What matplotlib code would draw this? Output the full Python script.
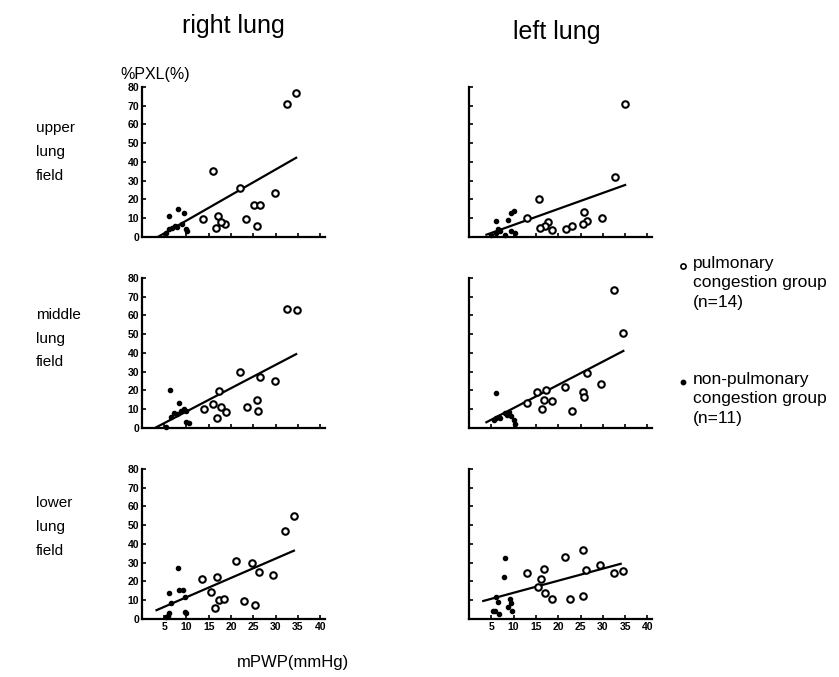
import matplotlib.pyplot as plt

plt.rcParams['font.family'] = ['Liberation Sans', 'DejaVu Sans']

# open circles = pulmonary congestion group, dots = non-pulmonary group
# right lung, upper field
ru_open_x = [34.6, 32.5, 16.0, 22.0, 29.8, 25.1, 26.5, 13.7, 17.1, 23.3, 16.7, 18.7, 25.9, 17.8]
ru_open_y = [76.8, 70.7, 35.1, 26.2, 23.4, 17.2, 17.2, 9.3, 11.1, 9.8, 4.6, 6.7, 5.8, 8.0]
ru_dot_x = [6.2, 8.2, 9.4, 6.0, 6.8, 7.5, 9.8, 10.2, 5.5, 8.0, 9.0]
ru_dot_y = [11.2, 14.8, 13.0, 4.0, 5.0, 6.0, 4.0, 3.0, 2.0, 5.5, 7.0]
ru_line_x = [3.6, 34.6]
ru_line_y = [0.0, 42.2]

# left lung, upper field
lu_open_x = [34.9, 32.8, 15.7, 13.1, 25.7, 29.9, 26.5, 25.6, 17.7, 17.0, 15.9, 18.6, 21.8, 23.0]
lu_open_y = [70.9, 32.2, 20.0, 9.9, 13.1, 10.3, 8.7, 6.8, 7.8, 5.6, 4.7, 3.5, 4.4, 5.9]
lu_dot_x = [6.0, 8.7, 9.5, 10.0, 5.0, 6.0, 7.0, 8.0, 9.5, 10.2, 6.5]
lu_dot_y = [8.5, 9.0, 12.5, 14.0, 1.0, 2.0, 3.0, 1.0, 3.0, 2.0, 4.0]
lu_line_x = [3.9, 35.0]
lu_line_y = [1.2, 27.7]

# right lung, middle field
rm_open_x = [32.5, 34.9, 22.1, 29.8, 26.6, 17.2, 16.0, 14.0, 17.8, 18.9, 16.9, 23.5, 25.9, 26.0]
rm_open_y = [63.4, 62.7, 29.6, 25.0, 27.1, 19.5, 12.9, 10.2, 11.1, 8.2, 5.2, 10.9, 14.8, 8.8]
rm_dot_x = [6.3, 8.4, 6.5, 7.2, 7.8, 9.5, 10.0, 9.8, 10.5, 5.5, 8.8]
rm_dot_y = [20.0, 13.0, 6.0, 8.0, 7.5, 10.0, 9.0, 3.0, 2.5, 0.5, 9.0]
rm_line_x = [3.0, 34.6]
rm_line_y = [0.0, 39.3]

# left lung, middle field
lm_open_x = [32.6, 34.6, 26.4, 29.6, 21.5, 17.2, 15.3, 25.6, 25.7, 16.8, 18.5, 16.3, 23.0, 13.1]
lm_open_y = [73.3, 50.3, 29.0, 23.4, 21.6, 20.2, 19.1, 19.1, 16.3, 14.7, 14.2, 10.1, 8.8, 13.5]
lm_dot_x = [6.1, 5.5, 6.0, 6.8, 8.0, 8.5, 9.0, 9.5, 10.0, 10.2, 7.0]
lm_dot_y = [18.4, 4.0, 5.0, 6.0, 8.0, 7.0, 8.5, 6.5, 4.0, 2.0, 5.0]
lm_line_x = [3.9, 34.6]
lm_line_y = [3.0, 41.0]

# right lung, lower field
rl_open_x = [34.2, 32.2, 21.1, 24.7, 26.3, 29.5, 13.4, 16.9, 15.6, 17.4, 18.5, 16.5, 22.9, 25.4]
rl_open_y = [55.0, 46.7, 31.1, 29.7, 25.3, 23.2, 21.1, 22.3, 14.4, 10.0, 10.9, 5.6, 9.5, 7.7]
rl_dot_x = [6.2, 8.2, 8.4, 9.3, 6.6, 9.7, 6.2, 5.9, 9.7, 10.0, 5.4]
rl_dot_y = [14.0, 27.2, 15.3, 15.3, 8.3, 11.8, 3.0, 1.8, 3.5, 3.0, 1.2]
rl_line_x = [3.3, 34.1]
rl_line_y = [4.7, 36.4]

# left lung, lower field
ll_open_x = [25.5, 21.5, 16.8, 13.1, 29.4, 26.3, 32.5, 34.5, 16.2, 15.4, 17.1, 18.6, 22.7, 25.5]
ll_open_y = [36.7, 33.2, 26.6, 24.7, 28.8, 26.2, 24.5, 25.5, 21.5, 17.1, 13.6, 10.7, 10.7, 12.4]
ll_dot_x = [8.1, 7.9, 6.5, 6.1, 5.9, 6.7, 9.2, 9.4, 8.7, 9.6, 5.4]
ll_dot_y = [32.5, 22.4, 9.3, 11.5, 4.0, 2.6, 10.7, 8.4, 6.6, 4.5, 4.4]
ll_line_x = [3.2, 34.0]
ll_line_y = [9.6, 29.4]

y_ticks = [0, 10, 20, 30, 40, 50, 60, 70, 80]
x_ticks = [5, 10, 15, 20, 25, 30, 35, 40]

panels = [
    [(ru_open_x, ru_open_y, ru_dot_x, ru_dot_y, ru_line_x, ru_line_y),
     (lu_open_x, lu_open_y, lu_dot_x, lu_dot_y, lu_line_x, lu_line_y)],
    [(rm_open_x, rm_open_y, rm_dot_x, rm_dot_y, rm_line_x, rm_line_y),
     (lm_open_x, lm_open_y, lm_dot_x, lm_dot_y, lm_line_x, lm_line_y)],
    [(rl_open_x, rl_open_y, rl_dot_x, rl_dot_y, rl_line_x, rl_line_y),
     (ll_open_x, ll_open_y, ll_dot_x, ll_dot_y, ll_line_x, ll_line_y)],
]

fig = plt.figure(figsize=(8.39, 6.77), dpi=100)

lefts = [0.169, 0.559]
bottoms = [0.650, 0.368, 0.0857]
width = 0.218
height = 0.2245

for r in range(3):
    for c in range(2):
        ox, oy, dx, dy, lx, ly = panels[r][c]
        ax = fig.add_axes([lefts[c], bottoms[r], width, height])
        ax.plot(lx, ly, color='black', lw=1.6)
        ax.scatter(ox, oy, s=22, facecolors='white', edgecolors='black',
                   linewidths=1.5, zorder=3, clip_on=False)
        ax.scatter(dx, dy, s=9, color='black', zorder=3, clip_on=False)
        ax.set_xlim(0, 41)
        ax.set_ylim(0, 81)
        ax.spines['top'].set_visible(False)
        ax.spines['right'].set_visible(False)
        ax.spines['left'].set_linewidth(1.6)
        ax.spines['bottom'].set_linewidth(1.6)
        ax.spines['left'].set_bounds(0, 80)
        ax.set_yticks(y_ticks)
        ax.set_xticks(x_ticks)
        ax.tick_params(direction='in', length=3, width=1.2, labelsize=7.5, pad=2)
        for t in ax.get_xticklabels() + ax.get_yticklabels():
            t.set_fontweight('bold')
        if c == 1:
            ax.set_yticklabels([])
        if r < 2:
            ax.set_xticklabels([])

fig.text(0.278, 0.962, 'right lung', fontsize=18, ha='center', va='center')
fig.text(0.663, 0.952, 'left lung', fontsize=18, ha='center', va='center')
fig.text(0.143, 0.890, '%PXL(%)', fontsize=11.5, ha='left', va='center')

row_labels = ['upper\nlung\nfield', 'middle\nlung\nfield', 'lower\nlung\nfield']
row_y = [0.775, 0.500, 0.222]
for lab, yy in zip(row_labels, row_y):
    fig.text(0.043, yy, lab, fontsize=11, ha='left', va='center', linespacing=1.9)

fig.text(0.349, 0.022, 'mPWP(mmHg)', fontsize=12, ha='center', va='center')

# legend drawn as text blocks
fig.text(0.826, 0.622, 'pulmonary\ncongestion group\n(n=14)', fontsize=12.5,
         ha='left', va='top', linespacing=1.38)
fig.text(0.826, 0.451, 'non-pulmonary\ncongestion group\n(n=11)', fontsize=12.5,
         ha='left', va='top', linespacing=1.38)
lax = fig.add_axes([0, 0, 1, 1], facecolor='none')
lax.set_xlim(0, 1)
lax.set_ylim(0, 1)
lax.axis('off')
lax.scatter([0.814], [0.607], s=14, facecolors='white', edgecolors='black', linewidths=1.2)
lax.scatter([0.814], [0.436], s=10, color='black')

fig.savefig('out.png', dpi=100)
